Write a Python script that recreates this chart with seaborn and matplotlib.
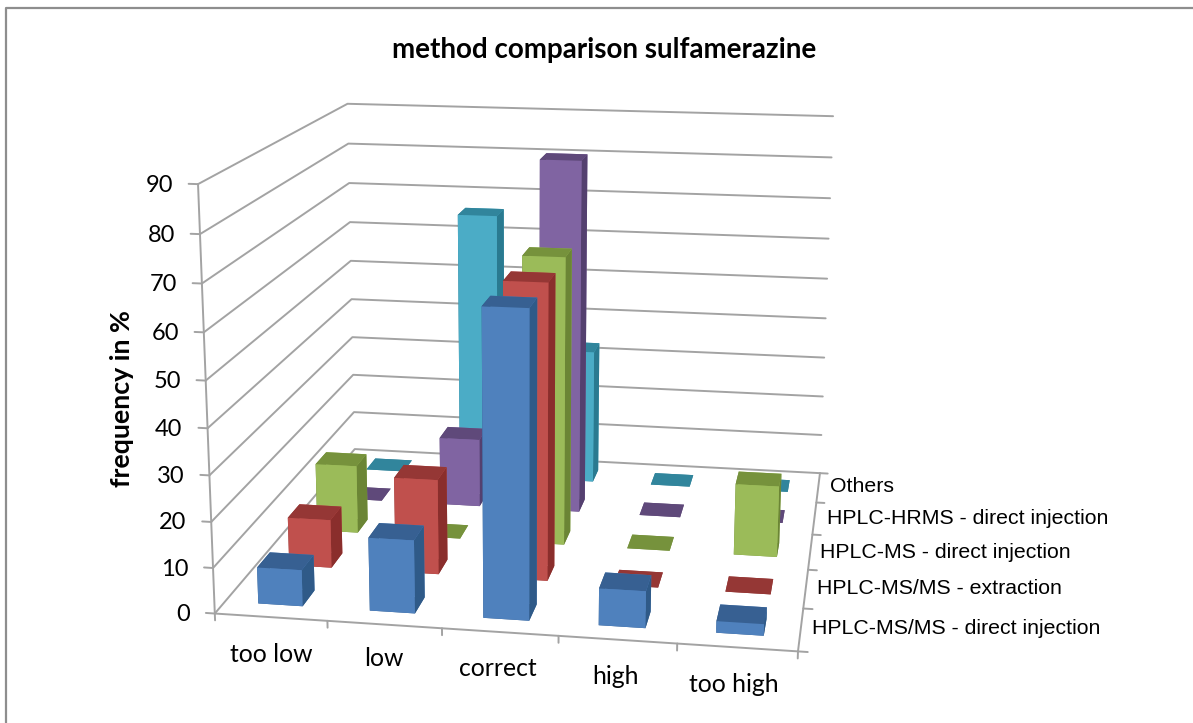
import matplotlib
matplotlib.use("Agg")
import matplotlib.pyplot as plt
import seaborn as sns
from matplotlib.lines import Line2D
from mpl_toolkits.mplot3d import proj3d

categories = ["too low", "low", "correct", "high", "too high"]
series = ["HPLC-MS/MS - direct injection", "HPLC-MS/MS - extraction", "HPLC-MS - direct injection",
          "HPLC-HRMS - direct injection", "Others"]
direct_msms = [8, 16, 66, 8, 2.5]
extraction = [11, 21.5, 66, 0, 0]
direct_ms = [16, 0, 66.5, 0, 16.5]
direct_hrms = [0, 16.5, 84, 0, 0]
others = [0, 66, 33, 0, 0]
values = [direct_msms, extraction, direct_ms, direct_hrms, others]
z_ticks = list(range(0, 100, 10))

sns.set_theme(style="white")
W, H = 1193, 723
fig = plt.figure(figsize=(W/100, H/100), dpi=100, facecolor="white")
ax = fig.add_axes([0.1, 0.1, 0.6, 0.6], projection="3d", computed_zorder=False)
ax.set_xlim(0, 5); ax.set_ylim(0, 5); ax.set_zlim(0, 90)
ax.set_axis_off()
ax.view_init(14.4258, -80.7585, -0.1589)
ax.set_proj_type("persp", focal_length=0.4725)
ax.set_box_aspect((0.9340, 0.9066, 0.7001))

# place the axes so that the view maps onto the reference's pixel frame
scale, tx, ty = 4456.852, 547.0, 376.7
ax.apply_aspect()
A = ax.transData.transform([[0, 0], [1, 0]])
pos = ax.get_position()
w = pos.width*scale/(A[1, 0]-A[0, 0])
hh = w*W/H
ax.set_position([pos.x0, pos.y0, w, hh])
ax.apply_aspect()
O = ax.transData.transform([[0, 0]])[0]
ax.set_position([pos.x0+(tx-O[0])/W, pos.y0+(ty-O[1])/H, w, hh])
ax.apply_aspect()

grey = "#A3A3A3"
def line(xs, ys, zs, lw=1.4):
    ax.plot(xs, ys, zs, color=grey, lw=lw, zorder=1, solid_capstyle="round")
for z in z_ticks:
    line([0, 0, 5], [0, 5, 5], [z, z, z])
    line([-0.08, 0], [0, 0], [z, z])
line([0, 0], [0, 0], [0, 90]); line([0, 5], [0, 0], [0, 0]); line([5, 5], [0, 5], [0, 0])
for i in range(6):
    line([i, i], [0, 0], [0, -1.5])
    line([5, 5.08], [i, i], [0, 0])

front = ["#4F81BD", "#C0504D", "#9BBB59", "#8064A2", "#4BACC6"]
top = ["#376092", "#953735", "#76923C", "#5F497A", "#31859C"]
side = ["#2F5A88", "#8A2E2C", "#6B8535", "#54406F", "#2A7A90"]
order = 10
for j in range(4, -1, -1):
    for i in range(5):
        col = [top[j], top[j], front[j], front[j], side[j], side[j]]
        ax.bar3d(i+0.3, j+0.3, 0, 0.4, 0.4, values[j][i], color=col, shade=False, zorder=order, linewidth=0)
        order += 1

def px(x, y, s, **k):
    return fig.text(x/W, 1-y/H, s, color="black", va="center", **k)

px(604, 50, "method comparison sulfamerazine", family="Lato", weight="bold", fontsize=20, ha="center")
M = ax.get_proj()
for z in z_ticks:
    u, v, _ = proj3d.proj_transform(0, 0, z, M)
    d = ax.transData.transform([[u, v]])[0]
    px(d[0]-25, H-d[1]+1, str(z), family="Lato", fontsize=17, ha="right")
px(122, 399, "frequency in %", family="Lato", weight="bold", fontsize=19.3, rotation=90, ha="center")
for name, x, y in zip(categories, [271, 384, 498, 615, 734], [654, 659, 669, 677, 684]):
    px(x, y, name, family="Lato", fontsize=17.8, ha="center")
for name, x, y in zip(series, [812, 817, 820, 827, 830], [629, 589, 552, 518, 487]):
    px(x, y, name, family="Liberation Sans", fontsize=15.3, ha="left")

fig.add_artist(Line2D([6/W, 6/W, 1], [0, 1-8/H, 1-8/H], color="#8E8E8E", lw=1.6))
fig.savefig("out.png", dpi=100)
